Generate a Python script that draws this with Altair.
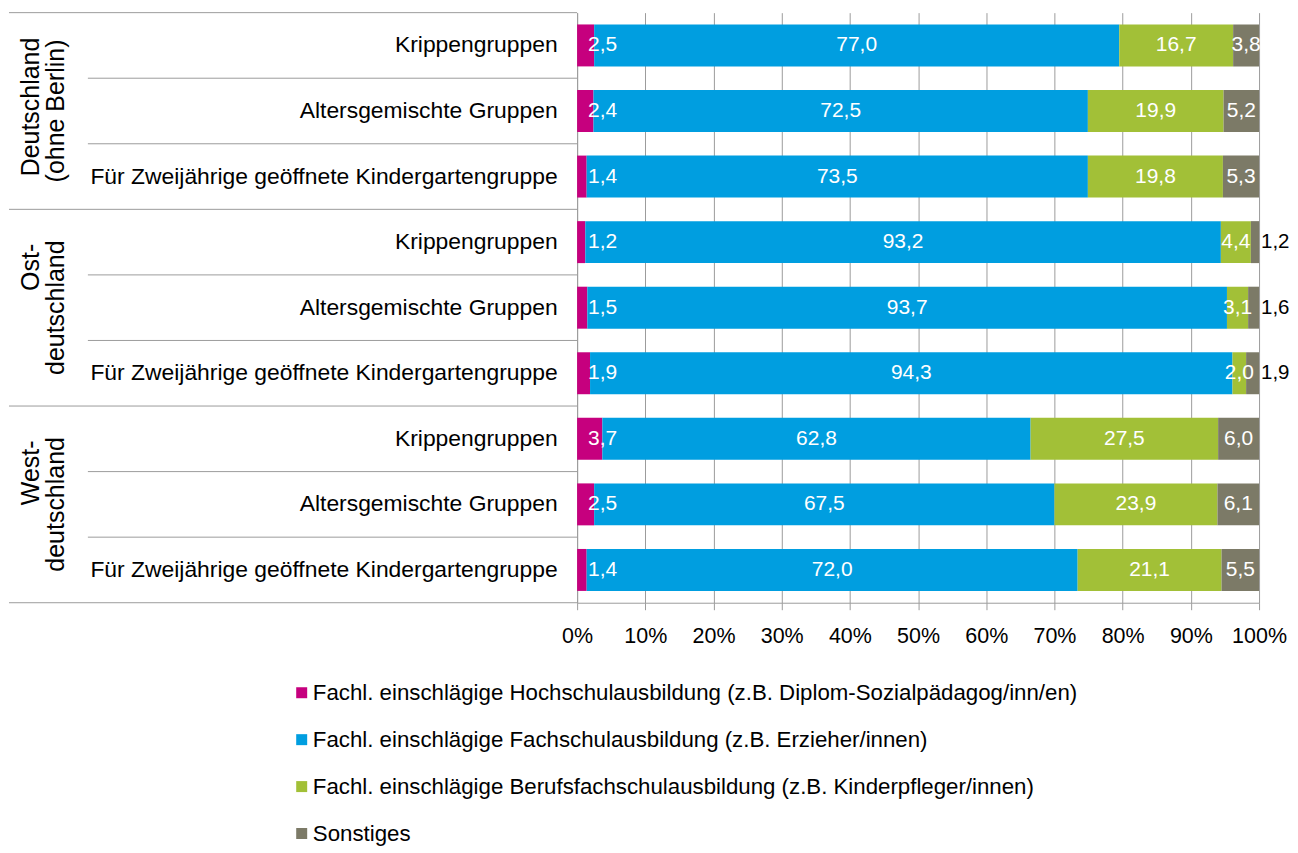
import altair as alt
import pandas as pd

# ---- data ----
group_line1 = ["Deutschland", "Ost-", "West-"]
group_line2 = ["(ohne Berlin)", "deutschland", "deutschland"]
types = ["Krippengruppen", "Altersgemischte Gruppen", "Für Zweijährige geöffnete Kindergartengruppe"]
series = [
    "Fachl. einschlägige Hochschulausbildung (z.B. Diplom-Sozialpädagog/inn/en)",
    "Fachl. einschlägige Fachschulausbildung (z.B. Erzieher/innen)",
    "Fachl. einschlägige Berufsfachschulausbildung (z.B. Kinderpfleger/innen)",
    "Sonstiges",
]
hochschule = [2.5, 2.4, 1.4, 1.2, 1.5, 1.9, 3.7, 2.5, 1.4]
fachschule = [77.0, 72.5, 73.5, 93.2, 93.7, 94.3, 62.8, 67.5, 72.0]
berufsfach = [16.7, 19.9, 19.8, 4.4, 3.1, 2.0, 27.5, 23.9, 21.1]
sonstiges = [3.8, 5.2, 5.3, 1.2, 1.6, 1.9, 6.0, 6.1, 5.5]
colors = ["#C6007E", "#009EE0", "#A2C037", "#7C7A67"]
boundaries = list(range(10))
group_boundaries = [0, 3, 6, 9]

# ---- build tables ----
row_keys = [f"{g}|{t}" for g in range(3) for t in types]
values = [hochschule, fachschule, berufsfach, sonstiges]
recs = []
for r, key in enumerate(row_keys):
    g = r // 3
    for s in range(4):
        v = values[s][r]
        if s == 0:
            pos = "left"
        elif s == 3 and g == 1:
            pos = "outside"
        else:
            pos = "center"
        recs.append({"row": key, "series": series[s], "order": s, "value": v,
                     "label": f"{v:.1f}".replace(".", ","), "pos": pos})
df = pd.DataFrame(recs)

sep_inner = pd.DataFrame({"b": [b for b in boundaries if b not in group_boundaries]})
sep_group = pd.DataFrame({"b": group_boundaries})
# group labels sit on the middle row of each group
grp = pd.DataFrame({"row": [row_keys[3 * g + 1] for g in range(3)],
                    "l1": group_line1, "l2": group_line2})

FONT = "Liberation Sans"
GRID = "#9C9C9C"
W, H = 683, 591
band_scale = alt.Scale(domain=row_keys, paddingInner=0.36, paddingOuter=0.18)
yband = alt.Y("row:N", sort=row_keys, scale=band_scale)

base = (alt.Chart(df)
        .transform_joinaggregate(total="sum(value)", groupby=["row"])
        .transform_calculate(share="datum.value / datum.total")
        .transform_stack(stack="share", groupby=["row"], sort=[alt.SortField("order")], as_=["x0", "x1"])
        .transform_calculate(mid="(datum.x0 + datum.x1) / 2"))

bars = base.mark_bar(strokeWidth=0).encode(
    y=alt.Y("row:N", sort=row_keys, scale=band_scale,
            axis=alt.Axis(title=None, ticks=False, labelExpr="split(datum.label, '|')[1]",
                          labelFontSize=22.9, labelColor="#000000", labelPadding=20,
                          labelFont=FONT, domainColor=GRID, labelLimit=600)),
    x=alt.X("x0:Q", scale=alt.Scale(domain=[0, 1], nice=False),
            axis=alt.Axis(title=None, values=[i / 10 for i in range(11)], format=".0%",
                          grid=True, gridColor=GRID, domainColor=GRID, tickColor=GRID,
                          tickSize=7, labelFontSize=21.5, labelColor="#000000",
                          labelFont=FONT, labelPadding=16, labelFlush=False)),
    x2="x1:Q",
    color=alt.Color("series:N", scale=alt.Scale(domain=series, range=colors),
                    legend=alt.Legend(orient="none", legendX=-287, legendY=670, title=None,
                                      direction="vertical", symbolType="square", symbolSize=121,
                                      symbolStrokeWidth=0, labelFontSize=22.3, labelFont=FONT,
                                      labelColor="#000000", rowPadding=24, labelOffset=0,
                                      labelLimit=1000)),
    order=alt.Order("order:Q"),
)

txt_center = base.transform_filter("datum.pos == 'center'").mark_text(
    color="white", fontSize=21, font=FONT, align="center", baseline="middle").encode(
    y=yband, x="mid:Q", text="label:N")
txt_left = base.transform_filter("datum.pos == 'left'").mark_text(
    color="white", fontSize=21, font=FONT, align="left", baseline="middle", dx=11).encode(
    y=yband, x="x0:Q", text="label:N")
txt_out = base.transform_filter("datum.pos == 'outside'").mark_text(
    color="black", fontSize=20.5, font=FONT, align="left", baseline="middle", dx=2).encode(
    y=yband, x="x1:Q", text="label:N")

gbase = alt.Chart(grp)
g_long1 = gbase.transform_filter("slice(datum.l1, -1) != '-'").mark_text(
    angle=270, fontSize=25, font=FONT, color="black", align="center", baseline="middle",
    yOffset=-4).encode(y=yband, x=alt.value(-547), text="l1:N")
g_short1 = gbase.transform_filter("slice(datum.l1, -1) == '-'").mark_text(
    angle=270, fontSize=25, font=FONT, color="black", align="right", baseline="middle",
    yOffset=-64).encode(y=yband, x=alt.value(-547), text="l1:N")
g_line2 = gbase.mark_text(
    angle=270, fontSize=25, font=FONT, color="black", align="center", baseline="middle").encode(
    y=yband, x=alt.value(-522), text="l2:N")

main = alt.layer(bars, txt_center, txt_left, txt_out, g_long1, g_short1, g_line2)

ylin = alt.Y("b:Q", scale=alt.Scale(domain=[0, 9], reverse=True, nice=False, zero=False), axis=None)
rule_inner = alt.Chart(sep_inner).mark_rule(color=GRID, strokeWidth=1).encode(
    y=ylin, x=alt.value(-490), x2=alt.value(0))
rule_group = alt.Chart(sep_group).mark_rule(color=GRID, strokeWidth=1).encode(
    y=ylin, x=alt.value(-569), x2=alt.value(0))

chart = alt.layer(main, rule_inner, rule_group).resolve_scale(y="independent").properties(
    width=W, height=H, padding={"left": 0, "top": 3, "right": 0, "bottom": 0}
).configure_view(stroke=None)

chart.save("out.html", embed_options={"renderer": "svg", "actions": False})
